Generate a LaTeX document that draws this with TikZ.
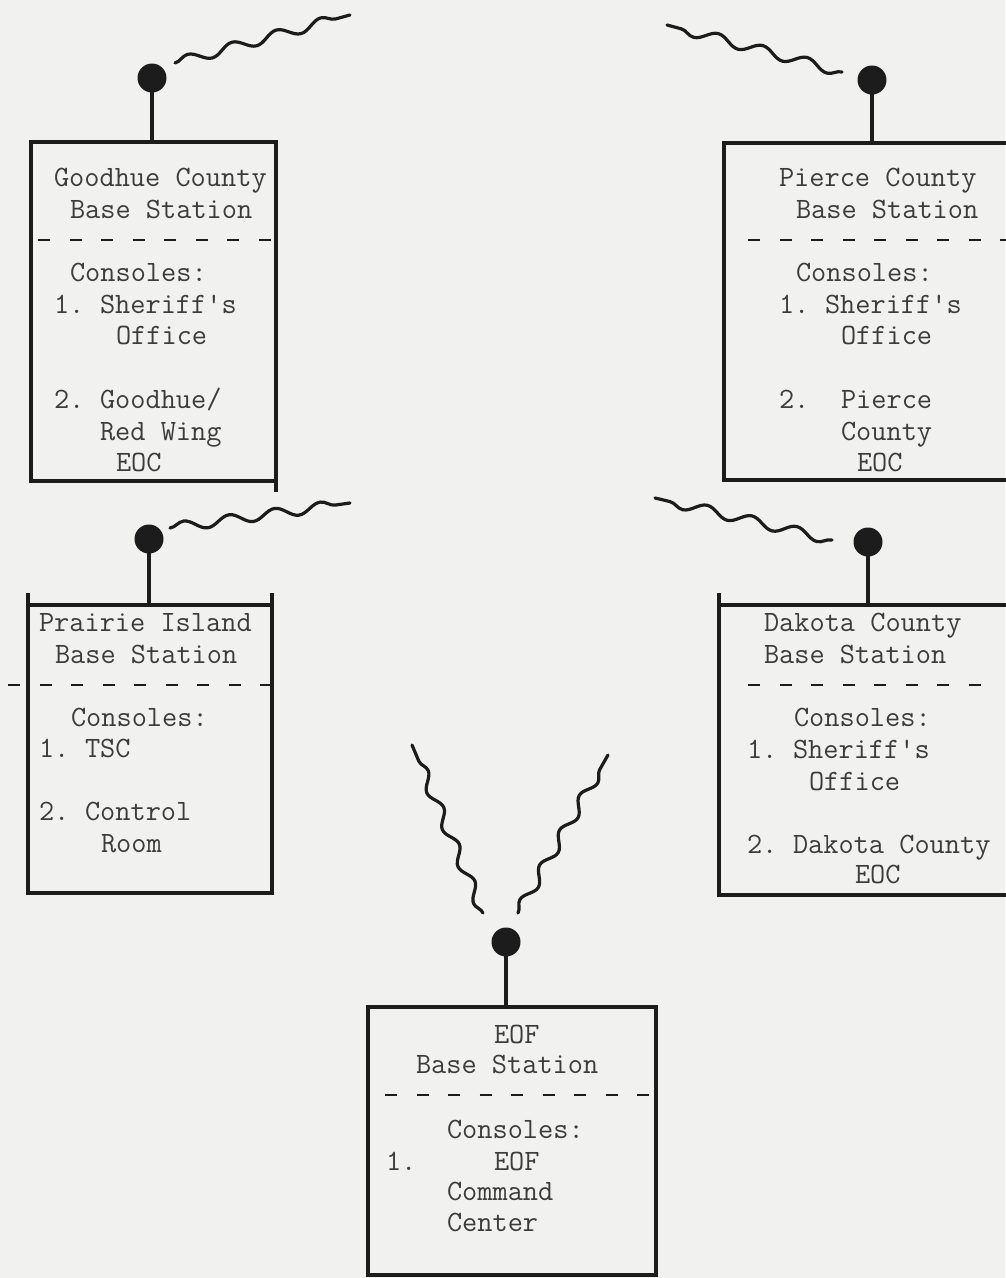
\documentclass[tikz,border=0pt]{standalone}
\usetikzlibrary{decorations.pathmorphing}
\definecolor{bg}{HTML}{F1F1EF}
\definecolor{ink}{HTML}{1C1C1C}
\definecolor{typ}{HTML}{3C3C3C}
\begin{document}
\begin{tikzpicture}[x=1pt,y=-1pt,
  txt/.style={anchor=base west, inner sep=0pt, outer sep=0pt, text=typ, font=\ttfamily\fontsize{29.5pt}{31pt}\selectfont},
  boxnode/.style={draw=ink, line width=3.2pt, rectangle, inner sep=0pt, outer sep=0pt},
  dot/.style={circle, fill=ink, minimum size=29pt, inner sep=0pt, outer sep=0pt},
  stem/.style={draw=ink, line width=3.2pt},
  wave/.style={draw=ink, line width=3.2pt, line cap=round, decorate, decoration={snake, segment length=46pt, amplitude=5pt}},
  sepline/.style={draw=ink, line width=2.6pt, dash pattern=on 12pt off 19.5pt}
]
\fill[bg] (0,0) rectangle (1005,1278);
\useasboundingbox (0,0) rectangle (1005,1278);

% boxes
\node[boxnode, minimum width=245pt, minimum height=339pt] (G) at (153.5,311.5) {};
\node[boxnode, minimum width=288pt, minimum height=337pt] (P) at (868,311.5) {};
\node[boxnode, minimum width=244pt, minimum height=288pt] (PI) at (150,749) {};
\node[boxnode, minimum width=293pt, minimum height=290pt] (D) at (865.5,750) {};
\node[boxnode, minimum width=288pt, minimum height=268pt] (E) at (512,1141) {};

% edge extensions
\draw[stem] (G.south east) -- ++(0,11);
\draw[stem] (PI.north west) -- ++(0,-12);
\draw[stem] (PI.north east) -- ++(0,-12);
\draw[stem] (D.north west) -- ++(0,-12);

% antennas
\node[dot] (gd) at (152,78) {};
\node[dot] (pd) at (872,80) {};
\node[dot] (pid) at (149,539) {};
\node[dot] (dd) at (868,542) {};
\node[dot] (ed) at (506,942) {};
\draw[stem] (gd.center) -- (gd.center |- G.north);
\draw[stem] (pd.center) -- (pd.center |- P.north);
\draw[stem] (pid.center) -- (pid.center |- PI.north);
\draw[stem] (dd.center) -- (dd.center |- D.north);
\draw[stem] (ed.center) -- (ed.center |- E.north);

% radio waves
\coordinate (gw1) at (175,63);  \coordinate (gw2) at (350,15);
\coordinate (pw1) at (842,72);  \coordinate (pw2) at (667,25);
\coordinate (iw1) at (170,528); \coordinate (iw2) at (350,503);
\coordinate (dw1) at (832,540); \coordinate (dw2) at (655,498);
\coordinate (el1) at (483,913); \coordinate (el2) at (412,745);
\coordinate (er1) at (518,913); \coordinate (er2) at (608,755);
\draw[wave] (gw1) -- (gw2);
\draw[wave] (pw1) -- (pw2);
\draw[wave] (iw1) -- (iw2);
\draw[wave] (dw1) -- (dw2);
\draw[wave, decoration={segment length=40pt}] (el1) -- (el2);
\draw[wave, decoration={segment length=40pt}] (er1) -- (er2);

% separators
\draw[sepline] (38,240) -- (277,240);
\draw[sepline] (748,240) -- (1010,240);
\draw[sepline] (8,685) -- (272,685);
\draw[sepline] (748,685) -- (985,685);
\draw[sepline] (385,1095) -- (656,1095);

% Goodhue
\node[txt] (g1) at (54,186) {Goodhue County};
\node[txt] (g2) at (70,218) {Base Station};
\node[txt] (g3) at (70,281) {Consoles:};
\node[txt] (g4) at (54,313) {1.};
\node[txt] (g5) at (100,313) {Sheriff\textquotesingle s};
\node[txt] (g6) at (116,344) {Office};
\node[txt] (g7) at (54,408) {2.};
\node[txt] (g8) at (100,408) {Goodhue/};
\node[txt] (g9) at (100,440) {Red Wing};
\node[txt] (g10) at (116,471) {EOC};

% Pierce
\node[txt] (p1) at (779,186) {Pierce County};
\node[txt] (p2) at (796,218) {Base Station};
\node[txt] (p3) at (796,281) {Consoles:};
\node[txt] (p4) at (779,313) {1.};
\node[txt] (p5) at (825,313) {Sheriff\textquotesingle s};
\node[txt] (p6) at (841,344) {Office};
\node[txt] (p7) at (779,408) {2.};
\node[txt] (p8) at (841,408) {Pierce};
\node[txt] (p9) at (841,440) {County};
\node[txt] (p10) at (857,471) {EOC};

% Prairie Island
\node[txt] (i1) at (39,631) {Prairie Island};
\node[txt] (i2) at (55,663) {Base Station};
\node[txt] (i3) at (71,726) {Consoles:};
\node[txt] (i4) at (39,757) {1.};
\node[txt] (i5) at (85,757) {TSC};
\node[txt] (i6) at (39,820) {2.};
\node[txt] (i7) at (85,820) {Control};
\node[txt] (i8) at (101,852) {Room};

% Dakota
\node[txt] (d1) at (764,631) {Dakota County};
\node[txt] (d2) at (764,663) {Base Station};
\node[txt] (d3) at (794,726) {Consoles:};
\node[txt] (d4) at (747,758) {1.};
\node[txt] (d5) at (793,758) {Sheriff\textquotesingle s};
\node[txt] (d6) at (809,790) {Office};
\node[txt] (d7) at (747,853) {2.};
\node[txt] (d8) at (793,853) {Dakota County};
\node[txt] (d9) at (855,883) {EOC};

% EOF
\node[txt] (e1) at (494,1043) {EOF};
\node[txt] (e2) at (416,1073) {Base Station};
\node[txt] (e3) at (447,1138) {Consoles:};
\node[txt] (e4) at (386,1170) {1.};
\node[txt] (e5) at (494,1170) {EOF};
\node[txt] (e6) at (447,1200) {Command};
\node[txt] (e7) at (447,1231) {Center};
\end{tikzpicture}
\end{document}
